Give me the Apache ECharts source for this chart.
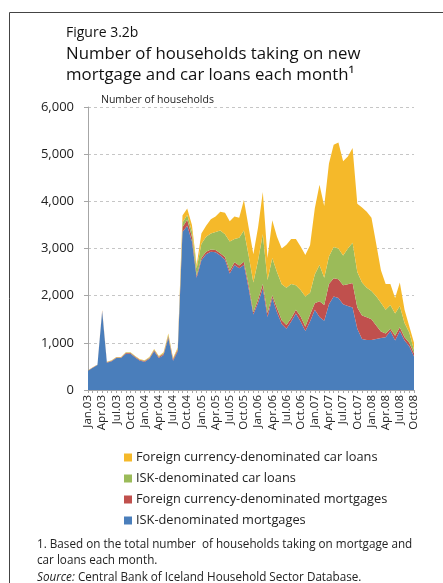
<!DOCTYPE html>
<html>
<head>
<meta charset="utf-8">
<script src="https://cdn.jsdelivr.net/npm/echarts@6/dist/echarts.min.js"></script>
<style>
  html, body { margin: 0; padding: 0; background: #fff; }
  #chart { width: 443px; height: 583px; }
</style>
</head>
<body>
<div id="chart"></div>
<script>
// Monthly categories, Jan.03 through Oct.08
const monthNames = ['Jan', 'Feb', 'Mar', 'Apr', 'May', 'Jun', 'Jul', 'Aug', 'Sep', 'Oct', 'Nov', 'Dec'];
const years = ['03', '04', '05', '06', '07', '08'];
const lastMonthIndex = 9; // Oct in final year
const categories = [];
years.forEach((y, yi) => {
  monthNames.forEach((m, mi) => {
    if (yi === years.length - 1 && mi > lastMonthIndex) return;
    categories.push(m + '.' + y);
  });
});

// Number of households per month, by loan type
const iskMortgages = [
  410, 470, 530, 1670, 580, 610, 680, 680, 770, 770, 690, 620,
  600, 660, 820, 680, 740, 1100, 620, 820, 3350, 3480, 3150, 2380,
  2750, 2880, 2930, 2920, 2850, 2760, 2470, 2650, 2580, 2650, 2150, 1600,
  1850, 2150, 1550, 1950, 1650, 1400, 1300, 1450, 1620, 1450, 1250, 1450,
  1700, 1550, 1470, 1820, 1980, 1950, 1820, 1780, 1750, 1300, 1080, 1060,
  1060, 1080, 1100, 1120, 1250, 1050, 1250, 1050, 930, 710
];
const fxMortgages = [
  5, 5, 5, 15, 10, 10, 10, 10, 15, 15, 15, 15,
  15, 20, 25, 20, 30, 40, 30, 40, 100, 130, 100, 50,
  50, 50, 50, 50, 50, 60, 60, 60, 60, 70, 80, 50,
  70, 100, 80, 60, 90, 80, 80, 70, 80, 110, 90, 150,
  140, 330, 330, 430, 390, 400, 400, 460, 520, 450, 500, 480,
  440, 290, 140, 80, 50, 100, 80, 70, 70, 70
];
const iskCarLoans = [
  3, 3, 3, 8, 5, 5, 5, 5, 8, 8, 8, 8,
  8, 10, 15, 10, 15, 30, 15, 20, 100, 100, 110, 150,
  300, 320, 340, 380, 480, 480, 620, 490, 590, 660, 620, 630,
  830, 1050, 700, 790, 760, 760, 790, 730, 520, 560, 640, 460,
  610, 770, 580, 580, 660, 650, 630, 760, 850, 750, 700, 630,
  600, 620, 610, 500, 500, 470, 450, 300, 220, 70
];
const fxCarLoans = [
  2, 2, 2, 7, 5, 5, 5, 5, 7, 7, 7, 7,
  7, 10, 10, 10, 15, 30, 15, 20, 150, 140, 140, 70,
  220, 230, 300, 330, 400, 460, 430, 480, 420, 650, 600, 600,
  700, 900, 470, 800, 750, 760, 910, 950, 980, 920, 880, 1010,
  1400, 1700, 1520, 1970, 2170, 2250, 2000, 1950, 2010, 1450, 1590, 1610,
  1550, 1110, 690, 550, 450, 330, 500, 280, 130, 150
];

// Value-axis ticks
const yTicks = [0, 1000, 2000, 3000, 4000, 5000, 6000];

const seriesNames = [
  'ISK-denominated mortgages',
  'Foreign currency-denominated mortgages',
  'ISK-denominated car loans',
  'Foreign currency-denominated car loans'
];
const seriesData = [iskMortgages, fxMortgages, iskCarLoans, fxCarLoans];
const seriesColors = ['#4a7ebb', '#c0504d', '#9bbb59', '#f5b92a'];

const FONT = '"Open Sans", "Noto Sans", sans-serif';

const chart = echarts.init(document.getElementById('chart'), null, { renderer: 'canvas' });

chart.setOption({
  animation: false,
  backgroundColor: '#ffffff',
  textStyle: { fontFamily: FONT },
  graphic: [{
    type: 'rect',
    silent: true,
    shape: { x: 9.5, y: 12.5, width: 445, height: 600 },
    style: { fill: 'none', stroke: '#444', lineWidth: 1 }
  }],
  title: [
    {
      text: 'Figure 3.2b',
      left: 61, top: 21,
      textStyle: { fontFamily: FONT, fontSize: 14, fontWeight: 'normal', color: '#111' }
    },
    {
      text: 'Number of households taking on new\nmortgage and car loans each month¹',
      left: 61, top: 38,
      textStyle: { fontFamily: FONT, fontSize: 16.8, fontWeight: 'normal', color: '#111', lineHeight: 21.5 }
    },
    {
      text: 'Number of households',
      left: 96, top: 90,
      textStyle: { fontFamily: FONT, fontSize: 10.5, fontWeight: 'normal', color: '#222' }
    },
    {
      text: '1. Based on the total number  of households taking on mortgage and\ncar loans each month.\n{i|Source:} Central Bank of Iceland Household Sector Database.',
      left: 32, top: 531,
      textStyle: {
        fontFamily: FONT, fontSize: 11.7, fontWeight: 'normal', color: '#222', lineHeight: 16.7,
        rich: { i: { fontFamily: FONT, fontSize: 11.7, fontStyle: 'italic', color: '#222', lineHeight: 16.7 } }
      }
    }
  ],
  legend: {
    data: [seriesNames[3], seriesNames[2], seriesNames[1], seriesNames[0]],
    orient: 'vertical',
    left: 119, top: 444,
    itemWidth: 8, itemHeight: 8, itemGap: 4,
    icon: 'rect',
    textStyle: { fontFamily: FONT, fontSize: 12.8, color: '#222', lineHeight: 17, padding: [0, 0, 0, -1] }
  },
  grid: { left: 88, right: 29, top: 107, bottom: 193 },
  xAxis: {
    type: 'category',
    data: categories,
    boundaryGap: false,
    axisLine: { lineStyle: { color: '#a6a6a6' } },
    axisTick: { interval: 0, length: 3, lineStyle: { color: '#a6a6a6' } },
    axisLabel: { interval: 2, rotate: 90, fontSize: 11.5, color: '#222', margin: 5 }
  },
  yAxis: {
    type: 'value',
    min: yTicks[0], max: yTicks[yTicks.length - 1], interval: 1000,
    axisLine: { show: true, lineStyle: { color: '#a6a6a6' } },
    axisTick: { show: true, length: 4, lineStyle: { color: '#a6a6a6' } },
    axisLabel: {
      fontSize: 13, color: '#222', margin: 14,
      formatter: v => v.toLocaleString('en-US')
    },
    splitLine: { lineStyle: { color: '#c6c6c6', type: [3, 3] } }
  },
  series: seriesNames.map((name, k) => ({
    name,
    type: 'line',
    stack: 'total',
    data: seriesData[k],
    symbol: 'none',
    lineStyle: { width: 0 },
    itemStyle: { color: seriesColors[k] },
    areaStyle: { color: seriesColors[k], opacity: 1 }
  }))
});
</script>
</body>
</html>
